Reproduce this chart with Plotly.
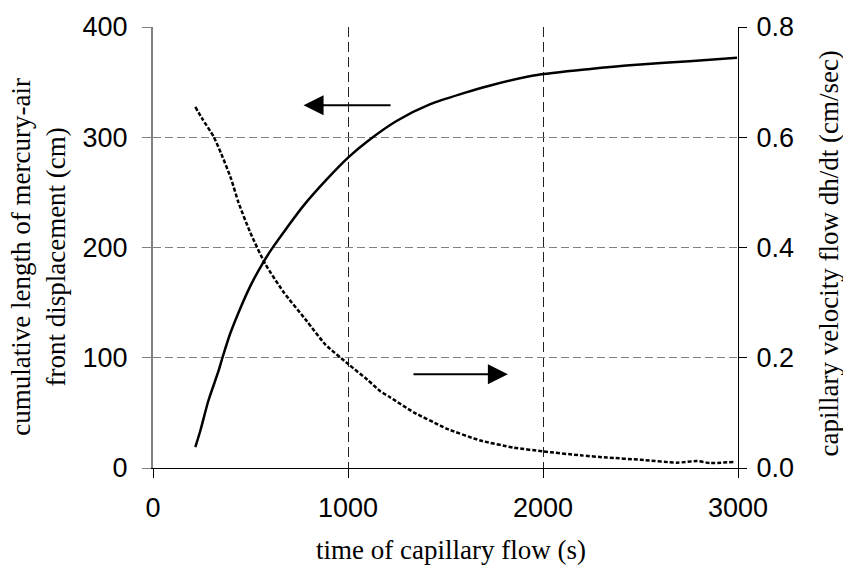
import plotly.graph_objects as go

# cumulative length of mercury-air front displacement (cm) vs time (s)
time_len = [217, 243, 284, 336, 356, 396, 448, 499, 567, 618, 687, 772, 892, 1003, 1097,
            1251, 1422, 1593, 1730, 1952, 2243, 2499, 2750, 2995]
length_cm = [19, 34, 61, 88, 100, 122, 145, 165, 187, 201, 218, 238, 262, 282, 296,
             315, 330, 340, 347, 356, 362, 366, 369, 372]

# capillary velocity flow dh/dt (cm/sec) vs time (s)
time_vel = [217, 250, 311, 350, 400, 439, 499, 576, 670, 790, 884, 1003, 1100, 1167,
            1217, 1337, 1473, 1508, 1678, 1849, 2003, 2191, 2328, 2500, 2687, 2790, 2858, 2977]
velocity = [0.655, 0.635, 0.601, 0.57, 0.525, 0.481, 0.427, 0.370, 0.319, 0.266, 0.224, 0.188,
            0.160, 0.139, 0.128, 0.101, 0.077, 0.071, 0.050, 0.037, 0.030, 0.023, 0.019,
            0.015, 0.0097, 0.0126, 0.009, 0.011]

x_ticks = [0, 1000, 2000, 3000]
y1_ticks = [0, 100, 200, 300, 400]
y2_ticks = [0.0, 0.2, 0.4, 0.6, 0.8]

x_title = "time of capillary flow (s)"
y1_title = "cumulative length of mercury-air<br>front displacement (cm)"
y2_title = "capillary velocity flow dh/dt (cm/sec)"

# arrows (data coordinates on the left axis): tail x, head x, y
arrow_left = (1226, 772, 329)
arrow_right = (1328, 1820, 85)

tick_font = dict(family="Liberation Sans, Arial, sans-serif", size=27, color="black")
title_font = dict(family="Liberation Serif, Times New Roman, serif", size=27, color="black")

fig = go.Figure()
fig.add_trace(go.Scatter(x=time_len, y=length_cm, mode="lines",
                         line=dict(color="black", width=2.5, shape="spline", smoothing=0.8),
                         yaxis="y", showlegend=False))
fig.add_trace(go.Scatter(x=time_vel, y=velocity, mode="lines",
                         line=dict(color="black", width=2.5, dash="4px,2px",
                                   shape="spline", smoothing=0.6),
                         yaxis="y2", showlegend=False))

for tail, head, yy in (arrow_left, arrow_right):
    fig.add_annotation(x=head, y=yy, ax=tail, ay=yy, xref="x", yref="y", axref="x", ayref="y",
                       text="", showarrow=True, arrowhead=2, arrowsize=2, arrowwidth=2,
                       arrowcolor="black", standoff=0, startstandoff=0)

fig.add_annotation(text=y1_title, xref="paper", yref="paper", x=-0.196, y=0.48,
                   textangle=-90, showarrow=False, font=title_font,
                   xanchor="center", yanchor="middle")
fig.add_annotation(text=y2_title, xref="paper", yref="paper", x=1.156, y=0.487,
                   textangle=-90, showarrow=False, font=title_font,
                   xanchor="center", yanchor="middle")
fig.add_annotation(text=x_title, xref="paper", yref="paper", x=0.51, y=-0.185,
                   showarrow=False, font=title_font, xanchor="center", yanchor="middle")

fig.update_layout(
    width=843, height=569,
    margin=dict(l=153, r=105, t=23, b=101),
    paper_bgcolor="white", plot_bgcolor="white",
    xaxis=dict(range=[0, 3000], tickvals=x_ticks, showline=True, linecolor="black", linewidth=1,
               ticks="outside", ticklen=9, tickcolor="black", tickfont=tick_font,
               showgrid=True, gridcolor="#222222", griddash="10px,5px", gridwidth=1,
               zeroline=False, ticklabelstandoff=7),
    yaxis=dict(range=[0, 400], tickvals=y1_ticks, showline=True, linecolor="#808080", linewidth=2,
               ticks="outside", ticklen=9, tickcolor="#808080", tickfont=tick_font,
               showgrid=True, gridcolor="#808080", griddash="8px,4px", gridwidth=1,
               zeroline=False, ticklabelstandoff=9),
    yaxis2=dict(range=[0, 0.8], tickvals=y2_ticks, tickformat=".1f", overlaying="y", side="right",
                showline=True, linecolor="black", linewidth=1, ticks="outside", ticklen=8,
                tickcolor="black", tickfont=tick_font, showgrid=False, zeroline=False,
                ticklabelstandoff=4),
)

fig.write_html("out.html")
